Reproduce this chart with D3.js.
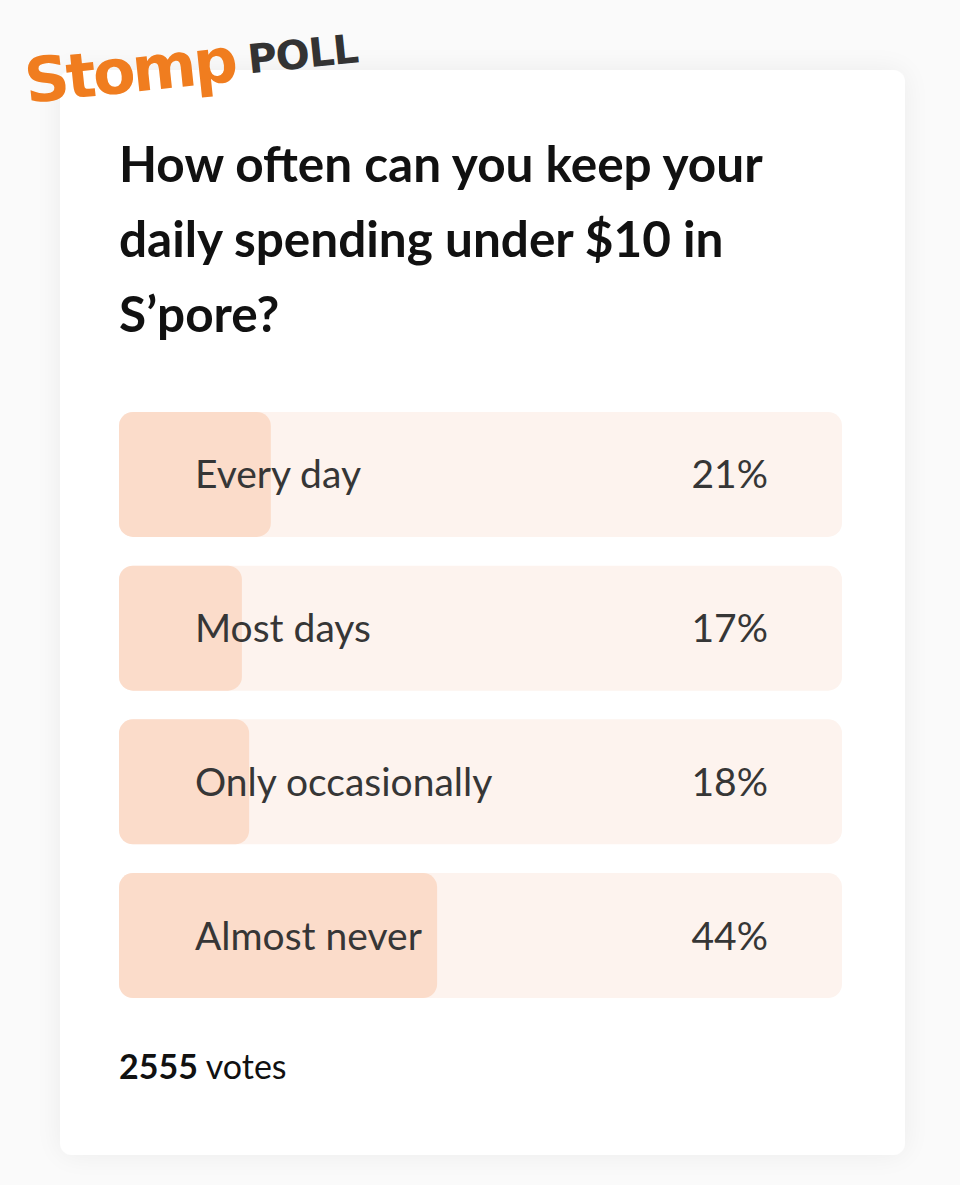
<!DOCTYPE html>
<html><head><meta charset="utf-8">
<script src="https://cdn.jsdelivr.net/npm/d3@7"></script>
<style>
html,body{margin:0;padding:0;background:#f9f9f9;}
svg{display:block;}
</style></head>
<body>
<script>
const categories = ["Every day", "Most days", "Only occasionally", "Almost never"];
const percents = [21, 17, 18, 44];
const totalVotes = 2555;
const titleLines = ["How often can you keep your", "daily spending under $10 in", "S\u2019pore?"];

const W = 960, H = 1185;
const svg = d3.select("body").append("svg").attr("width", W).attr("height", H);

const defs = svg.append("defs");
const f = defs.append("filter").attr("id","sh").attr("x","-10%").attr("y","-10%").attr("width","120%").attr("height","120%");
f.append("feGaussianBlur").attr("in","SourceAlpha").attr("stdDeviation",14);
f.append("feComponentTransfer").append("feFuncA").attr("type","linear").attr("slope",0.06);
const m = f.append("feMerge"); m.append("feMergeNode"); m.append("feMergeNode").attr("in","SourceGraphic");

svg.append("rect").attr("width",W).attr("height",H).attr("fill","#fafafa");
// card
svg.append("rect").attr("x",60).attr("y",70).attr("width",845).attr("height",1085).attr("rx",12)
  .attr("fill","#ffffff").attr("filter","url(#sh)");

// logo
const logo = svg.append("g").attr("transform","translate(27,103) rotate(-6)");
logo.append("text").attr("x",0).attr("y",0).attr("font-family","'DejaVu Sans', sans-serif")
  .attr("font-weight","900").attr("font-size",62).attr("fill","#f07d1f").attr("letter-spacing","-3")
  .text("Stomp");
logo.append("text").attr("x",224).attr("y",-6).attr("font-family","'DejaVu Sans', sans-serif")
  .attr("font-weight","900").attr("font-size",40).attr("fill","#333333").attr("letter-spacing","-1")
  .text("POLL");

// title
svg.append("g").selectAll("text").data(titleLines).join("text")
  .attr("x",119).attr("y",(d,i)=>182+i*75)
  .attr("font-family","Lato, sans-serif").attr("font-weight","700").attr("font-size",49.5)
  .attr("fill","#111111").text(d=>d);

// bars
const x = d3.scaleLinear().domain([0,100]).range([0,723]);
const y = d3.scaleBand().domain(categories).range([412,998]).paddingInner(0.187).paddingOuter(0);

const rows = svg.append("g").selectAll("g").data(categories).join("g")
  .attr("transform", d=>`translate(119,${y(d)})`);
rows.append("rect").attr("width",x(100)).attr("height",y.bandwidth()).attr("rx",14).attr("fill","#fdf3ee");
rows.append("rect").attr("width",(d,i)=>x(percents[i])).attr("height",y.bandwidth()).attr("rx",14).attr("fill","#fbdcca");
rows.append("text").attr("x",76).attr("y",y.bandwidth()/2+14)
  .attr("font-family","Lato, sans-serif").attr("font-size",39).attr("fill","#363636").text(d=>d);
rows.append("text").attr("x",649).attr("y",y.bandwidth()/2+14).attr("text-anchor","end")
  .attr("font-family","Lato, sans-serif").attr("font-size",39).attr("fill","#363636").text((d,i)=>percents[i]+"%");

// votes
const vt = svg.append("text").attr("x",119).attr("y",1079).attr("font-family","Lato, sans-serif").attr("font-size",34).attr("fill","#111");
vt.append("tspan").attr("font-weight","700").text(totalVotes);
vt.append("tspan").text(" votes");
</script>
</body></html>
